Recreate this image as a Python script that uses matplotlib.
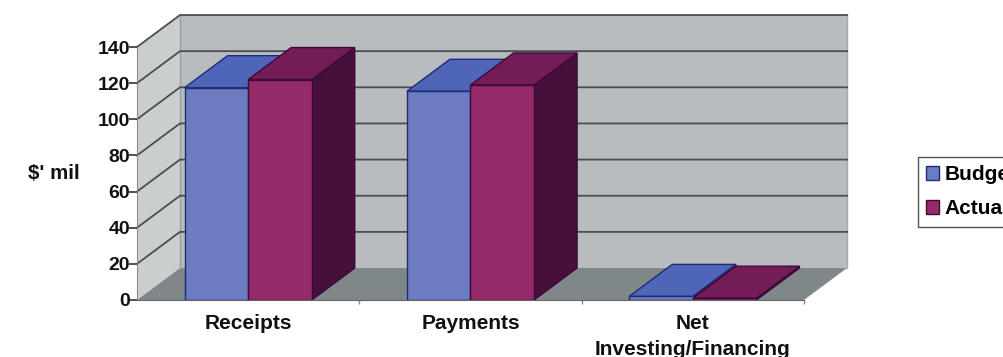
import matplotlib
matplotlib.use('Agg')
import matplotlib.pyplot as plt
from matplotlib.patches import Polygon, Patch

categories = ['Receipts', 'Payments', 'Net\nInvesting/Financing']
budget = [117.5, 115.5, 2]
actual = [122, 119, 1]
y_ticks = [0, 20, 40, 60, 80, 100, 120, 140]

plt.rcParams['font.family'] = ['Liberation Sans', 'DejaVu Sans']
plt.rcParams['font.weight'] = 'bold'
plt.rcParams['font.size'] = 14

# depth of the fake 3d box, in data units
dx = 0.1934
dy = 17.7
bar_w = 0.286


def depth_poly(ax, pts, color, edge='none', z=1):
    ax.add_patch(Polygon(pts, closed=True, facecolor=color, edgecolor=edge,
                         linewidth=1, clip_on=False, zorder=z))


fig = plt.figure(figsize=(10.04, 3.57), dpi=100)
ax = fig.add_axes([137 / 1004, 57 / 357, 667 / 1004, 253 / 357])
ax.set_xlim(0, 3)
ax.set_ylim(0, 140)
ax.patch.set_alpha(0)

# walls and floor
depth_poly(ax, [(dx, dy), (3 + dx, dy), (3 + dx, 140 + dy), (dx, 140 + dy)], '#b8bcbe')
depth_poly(ax, [(0, 0), (dx, dy), (dx, 140 + dy), (0, 140)], '#cbcecf')
depth_poly(ax, [(0, 0), (3, 0), (3 + dx, dy), (dx, dy)], '#808788')
ax.plot([dx, 3 + dx], [140 + dy, 140 + dy], color='#a5a8a9', lw=1, clip_on=False, zorder=1.2)
ax.plot([dx, dx], [dy, 140 + dy], color='#9a9e9f', lw=1, clip_on=False, zorder=1.2)
ax.plot([3 + dx, 3 + dx], [dy, 140 + dy], color='#a5a8a9', lw=1, clip_on=False, zorder=1.2)

for t in y_ticks[1:]:
    ax.plot([0, dx, 3 + dx], [t, t + dy, t + dy], color='#4a4e50', lw=1.3,
            clip_on=False, zorder=1.5)

# bars, back faces first so the front ones sit on top
for i in range(len(categories)):
    x_b = i + 0.5 - bar_w
    x_a = i + 0.5
    for x, v, front, top, side, edge in [
            (x_b, budget[i], '#6b7cc0', '#4f66b8', '#27306e', '#1f2a78'),
            (x_a, actual[i], '#942a68', '#741c55', '#46103a', '#3c0a3c')]:
        depth_poly(ax, [(x + bar_w, 0), (x + bar_w + dx, dy), (x + bar_w + dx, v + dy), (x + bar_w, v)],
                   side, edge, z=2 + i)
        depth_poly(ax, [(x, v), (x + bar_w, v), (x + bar_w + dx, v + dy), (x + dx, v + dy)],
                   top, edge, z=2 + i)
        ax.bar(x, v, width=bar_w, align='edge', color=front, edgecolor=edge, linewidth=1, zorder=2.5 + i)

for s in ['top', 'right']:
    ax.spines[s].set_visible(False)
ax.spines['left'].set_color('#8a8d8e')
ax.spines['bottom'].set_color('#666666')
ax.spines['left'].set_zorder(6)
ax.spines['bottom'].set_zorder(6)

ax.set_yticks(y_ticks)
ax.tick_params(axis='y', length=6, width=1.2, color='#333333', pad=-1, labelcolor='#111111')
ax.set_xticks([1, 2, 3])
ax.set_xticklabels([])
ax.tick_params(axis='x', which='major', length=3, width=1, color='#888888')
ax.set_xticks([0.5, 1.5, 2.5], minor=True)
ax.set_xticklabels(categories, minor=True, color='#111111', linespacing=1.45, fontsize=15)
ax.tick_params(axis='x', which='minor', length=0, pad=10)

fig.text(54 / 1004, 1 - 173 / 357, "$' mil", ha='center', va='center', color='#111111', fontsize=14.8)

handles = [Patch(facecolor='#6b7cc0', edgecolor='#1f2a78', label='Budget'),
           Patch(facecolor='#942a68', edgecolor='#3c0a3c', label='Actual')]
fig.legend(handles=handles, loc='upper left', bbox_to_anchor=(918 / 1004, 1 - 157 / 357),
           borderaxespad=0, fancybox=False, edgecolor='#555555', framealpha=1,
           fontsize=15, handlelength=0.62, handleheight=0.62, handletextpad=0.25,
           labelspacing=0.72, borderpad=0.4)

fig.savefig('out.png', dpi=100)
